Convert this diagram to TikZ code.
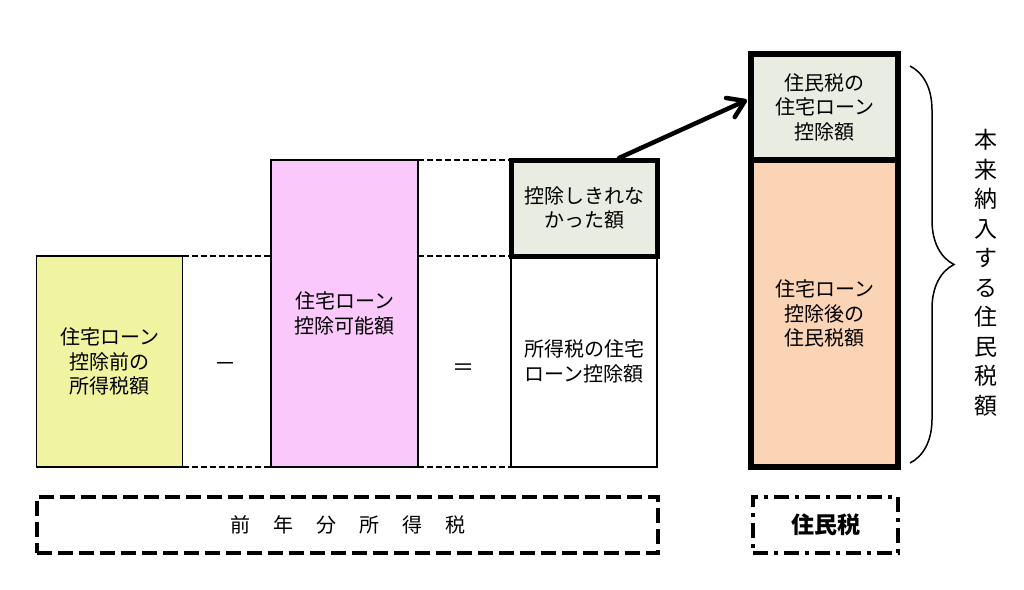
\documentclass[tikz,border=0pt]{standalone}
\usepackage{fontspec}
\setmainfont{Noto Sans CJK JP}
\usetikzlibrary{arrows.meta,decorations.pathreplacing}

\definecolor{maeyellow}{RGB}{240,243,160}
\definecolor{kanoupink}{RGB}{250,200,250}
\definecolor{nokorigreen}{RGB}{233,236,224}
\definecolor{atopeach}{RGB}{251,212,182}

\newcommand*{\boxw}{146pt}
\newcommand*{\spaced}[1]{#1\hspace{23pt}}

\begin{document}
\begin{tikzpicture}
[
	x=1pt,
	y=-1pt,
	box/.style={rectangle,draw,line width=1.5pt,outer sep=0pt,inner sep=0pt,minimum width=\boxw,align=center,font=\fontsize{20}{24.5}\selectfont},
	fillbox/.style={box,draw=none},
	thickbox/.style={box,line width=5pt},
	link/.style={line width=1.5pt,dash pattern=on 6pt off 3pt},
	op/.style={font=\fontsize{22}{24}\selectfont},
	group/.style={rectangle,draw,line width=4.5pt,outer sep=0pt,minimum height=56pt,font=\fontsize{20}{24}\selectfont},
	arrowline/.style={line width=4.5pt,line cap=round,-{Straight Barb[length=16pt,width=21pt,round]}}
]

	\useasboundingbox (0,0) rectangle (1024,589);

	% shotokuzei boxes
	\node[box, fill=maeyellow, minimum height=211pt] (mae) at (109.5,361.5) {住宅ローン\\控除前の\\所得税額};
	\node[box, fill=kanoupink, minimum width=147pt, minimum height=307pt] (kanou) at (344.5,313.5) {住宅ローン\\控除可能額};
	\node[box, fill=white, minimum height=211pt] (kojo) at (584,361.5) {所得税の住宅\\ローン控除額};
	\node[thickbox, fill=nokorigreen, minimum height=96pt] (nokori) at (584,208) {控除しきれな\\かった額};

	% operators
	\node[op] (minus) at (225,367) {－};
	\node[op] (equal) at (463,370) {＝};

	% dashed guides
	\draw[link] (mae.north east) -- (mae.north east -| kanou.west);
	\draw[link] (mae.south east) -- (kanou.south west);
	\draw[link] (kanou.north east) -- (nokori.north west);
	\draw[link] (kanou.east |- nokori.south) -- (nokori.south west);
	\draw[link] (kanou.south east) -- (kojo.south west);

	% juminzei boxes
	\node[fillbox, fill=nokorigreen, minimum width=147pt, minimum height=106pt] (jumintop) at (824.5,107) {住民税の\\住宅ローン\\控除額};
	\node[fillbox, fill=atopeach, minimum width=147pt, minimum height=307pt] (juminbottom) at (824.5,313.5) {住宅ローン\\控除後の\\住民税額};
	\draw[line width=6pt] (jumintop.north west) rectangle (juminbottom.south east);
	\draw[line width=6pt] (jumintop.south west) -- (jumintop.south east);

	% carry over
	\draw[arrowline] ([xshift=35pt,yshift=2pt]nokori.north) -- ([xshift=-4pt,yshift=7pt]jumintop.west);

	% brace
	\coordinate (bracetop) at (910,66);
	\coordinate (bracebot) at (910,463);
	\draw[line width=1.5pt, decorate, decoration={brace, amplitude=44pt}] (bracetop) -- (bracebot);
	\node[align=center, font=\fontsize{23}{29.5}\selectfont] (honrai) at (986,273) {本\\来\\納\\入\\す\\る\\住\\民\\税\\額};

	% bottom labels
	\node[group, dash pattern=on 15pt off 6pt, minimum width=621pt] (shotoku) at (347.5,525) {\spaced{前}\spaced{年}\spaced{分}\spaced{所}\spaced{得}税};
	\node[group, dash pattern=on 15pt off 6pt on 4pt off 6pt, minimum width=145pt, font=\fontsize{23}{26}\selectfont\bfseries] (jumin) at (825.5,525) {住民税};

\end{tikzpicture}
\end{document}
